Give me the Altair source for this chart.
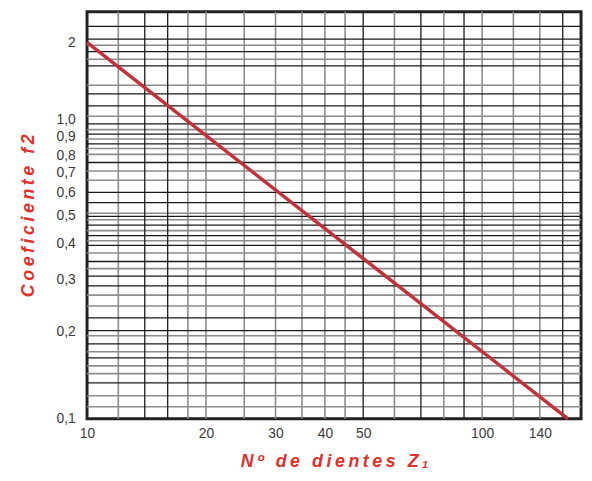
import altair as alt
import pandas as pd

# Line: coefficient f2 vs number of teeth Z1 (straight line on log-log paper)
z_line = [10, 165]
f2_line = [2.0, 0.1]

# Axis tick labels
x_ticks = [10, 20, 30, 40, 50, 100, 140]
y_ticks = [0.1, 0.2, 0.3, 0.4, 0.5, 0.6, 0.7, 0.8, 0.9, 1.0, 2.0]

# Grid lines, dark and light
vgrid_dark = [14, 16, 50, 70, 90, 160]
vgrid_light = [12, 18, 20, 25, 30, 35, 40, 45, 60, 80, 100, 120, 140]
hgrid_dark = [2.31, 2.06, 1.84, 1.62, 1.26, 1.13, 0.974, 0.915, 0.862, 0.76, 0.60, 0.553,
              0.496, 0.463, 0.426, 0.394, 0.347, 0.309, 0.286, 0.222, 0.201, 0.181,
              0.162, 0.133]
hgrid_light = [1.95, 1.72, 1.36, 1.03, 0.94, 0.888, 0.838, 0.808, 0.71, 0.66, 0.508, 0.483,
               0.443, 0.409, 0.371, 0.328, 0.266, 0.244, 0.193, 0.170, 0.152, 0.143,
               0.12, 0.11]

# The printed log paper is slightly irregular: piecewise log scale
X_DOMAIN = [10, 178]
Y_BREAKS = [0.1, 0.5, 0.8, 1.0, 2.0, 2.63]
Y_RANGE = [412, 206, 146, 109, 31, 0]

red = "#e2302b"
line_red = "#c4303a"

xscale = alt.Scale(type="log", domain=X_DOMAIN, nice=False)
yscale = alt.Scale(type="log", domain=Y_BREAKS, range=Y_RANGE, nice=False)

sp = "\u2009"
x_title = sp.join(list("Nº de dientes Z")) + "\u2009\u2081"
y_title = sp.join(list("Coeficiente f2"))

line_df = pd.DataFrame({"z": z_line, "f2": f2_line})

base_axis_x = alt.Axis(
    values=x_ticks, title=x_title, grid=False, ticks=False, domain=False,
    labelFont="Liberation Sans", labelFontSize=14, labelColor="#3a3a3a",
    labelPadding=8, labelFlush=False, labelOverlap=False,
    titleFont="Liberation Sans", titleFontSize=18, titleFontWeight="bold",
    titleFontStyle="italic", titleColor=red, titlePadding=12,
)
base_axis_y = alt.Axis(
    values=y_ticks, title=y_title, grid=False, ticks=False, domain=False,
    labelExpr="datum.value >= 1.5 ? '2' : replace(format(datum.value, '.1f'), '.', ',')",
    labelFont="Liberation Sans", labelFontSize=14, labelColor="#3a3a3a",
    labelPadding=12, labelFlush=False, labelOverlap=False,
    titleFont="Liberation Sans", titleFontSize=18, titleFontWeight="bold",
    titleFontStyle="italic", titleColor=red, titlePadding=19,
)

vd = alt.Chart(pd.DataFrame({"z": vgrid_dark})).mark_rule(color="#1a1a1a", strokeWidth=1.3).encode(
    x=alt.X("z:Q", scale=xscale, axis=base_axis_x))
vl = alt.Chart(pd.DataFrame({"z": vgrid_light})).mark_rule(color="#8c8c8c", strokeWidth=1.6).encode(
    x=alt.X("z:Q", scale=xscale))
hd = alt.Chart(pd.DataFrame({"f2": hgrid_dark})).mark_rule(color="#1a1a1a", strokeWidth=1.3).encode(
    y=alt.Y("f2:Q", scale=yscale, axis=base_axis_y))
hl = alt.Chart(pd.DataFrame({"f2": hgrid_light})).mark_rule(color="#8c8c8c", strokeWidth=1.6).encode(
    y=alt.Y("f2:Q", scale=yscale))

line = alt.Chart(line_df).mark_line(color=line_red, strokeWidth=3.5).encode(
    x=alt.X("z:Q", scale=xscale),
    y=alt.Y("f2:Q", scale=yscale),
)

chart = alt.layer(hl, vl, hd, vd, line).properties(
    width=500, height=412,
    autosize=alt.AutoSizeParams(type="none"),
    padding={"left": 80, "top": 1, "right": 3, "bottom": 52},
).configure(background="white").configure_view(stroke="#222222", strokeWidth=3)

chart.save("out.html", embed_options={"renderer": "svg", "actions": False})
